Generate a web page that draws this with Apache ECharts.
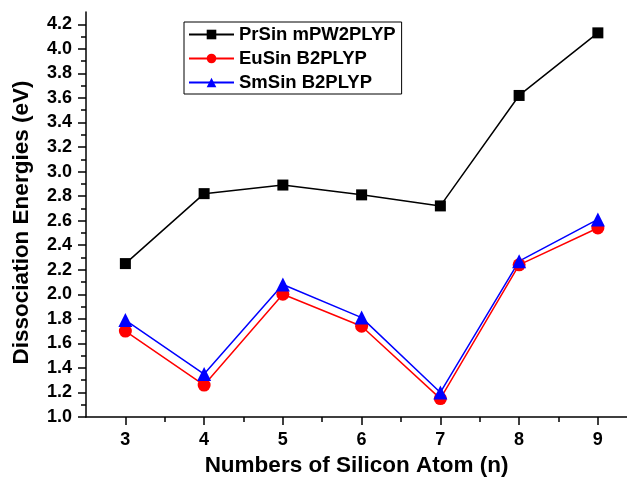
<!DOCTYPE html>
<html>
<head>
<meta charset="utf-8">
<script src="https://cdn.jsdelivr.net/npm/echarts@6/dist/echarts.min.js"></script>
<style>
  html, body { margin: 0; padding: 0; background: #fff; }
  #chart { width: 627px; height: 477px; }
</style>
</head>
<body>
<div id="chart"></div>
<script>
var atoms = [3, 4, 5, 6, 7, 8, 9];
var prSin = [2.25, 2.82, 2.89, 2.81, 2.72, 3.62, 4.13];
var euSin = [1.70, 1.26, 2.00, 1.74, 1.15, 2.24, 2.54];
var smSin = [1.79, 1.35, 2.08, 1.81, 1.20, 2.27, 2.61];
var yTicks = [1.0, 1.2, 1.4, 1.6, 1.8, 2.0, 2.2, 2.4, 2.6, 2.8, 3.0, 3.2, 3.4, 3.6, 3.8, 4.0, 4.2];

function pairs(xs, ys) {
    return xs.map(function (x, i) { return [x, ys[i]]; });
}

var font = 'Liberation Sans, Arial, sans-serif';
var chartDom = document.getElementById('chart');
var myChart = echarts.init(chartDom);

var option = {
    animation: false,
    backgroundColor: '#fff',
    grid: { left: 86, top: 12, right: 0, bottom: 60, outerBoundsMode: 'none', containLabel: false },
    legend: {
        orient: 'vertical',
        left: 184,
        top: 22,
        padding: [3, 6, 2, 4],
        itemGap: 5,
        itemWidth: 45,
        itemHeight: 12,
        borderColor: '#000',
        borderWidth: 1,
        textStyle: { fontFamily: font, fontWeight: 'bold', fontSize: 18.5, color: '#000' },
        data: ['PrSin mPW2PLYP', 'EuSin B2PLYP', 'SmSin B2PLYP']
    },
    xAxis: {
        type: 'value',
        min: 2.5,
        max: 9.37,
        name: 'Numbers of Silicon Atom (n)',
        nameLocation: 'middle',
        nameGap: 37,
        nameTextStyle: { fontFamily: font, fontWeight: 'bold', fontSize: 22.5, color: '#000' },
        splitLine: { show: false },
        axisLine: { lineStyle: { color: '#000', width: 1.5 } },
        axisTick: { length: 8, lineStyle: { color: '#000', width: 1.5 }, customValues: atoms },
        minorTick: { show: true, splitNumber: 2, length: 5, lineStyle: { color: '#000', width: 1.5 } },
        axisLabel: {
            customValues: atoms,
            margin: 14,
            fontFamily: font, fontWeight: 'bold', fontSize: 18, color: '#000'
        }
    },
    yAxis: {
        type: 'value',
        min: 1.0,
        max: 4.3,
        interval: 0.2,
        name: 'Dissociation Energies (eV)',
        nameLocation: 'middle',
        nameGap: 53,
        nameTextStyle: {
            fontFamily: font, fontWeight: 'bold', fontSize: 22.5, color: '#000',
            padding: [0, 16, 0, 0]
        },
        splitLine: { show: false },
        axisLine: { lineStyle: { color: '#000', width: 1.5 } },
        axisTick: { length: 8, lineStyle: { color: '#000', width: 1.5 }, customValues: yTicks },
        minorTick: { show: true, splitNumber: 2, length: 5, lineStyle: { color: '#000', width: 1.5 } },
        axisLabel: {
            customValues: yTicks,
            margin: 14,
            fontFamily: font, fontWeight: 'bold', fontSize: 18, color: '#000',
            formatter: function (v) { return v.toFixed(1); }
        }
    },
    series: [
        {
            name: 'PrSin mPW2PLYP', type: 'line', data: pairs(atoms, prSin),
            symbol: 'rect', symbolSize: 11,
            itemStyle: { color: '#000' },
            lineStyle: { color: '#000', width: 1.5 }
        },
        {
            name: 'EuSin B2PLYP', type: 'line', data: pairs(atoms, euSin),
            symbol: 'circle', symbolSize: 13,
            itemStyle: { color: '#ff0000' },
            lineStyle: { color: '#ff0000', width: 1.5 }
        },
        {
            name: 'SmSin B2PLYP', type: 'line', data: pairs(atoms, smSin),
            symbol: 'triangle', symbolSize: 14,
            itemStyle: { color: '#0000ff' },
            lineStyle: { color: '#0000ff', width: 1.5 }
        }
    ]
};

myChart.setOption(option);
</script>
</body>
</html>
